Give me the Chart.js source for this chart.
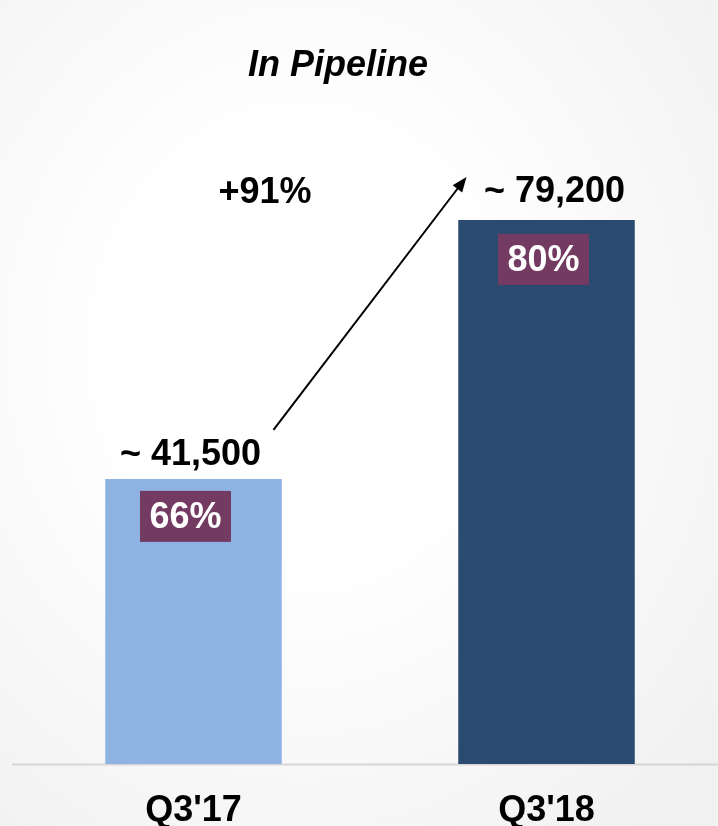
<!DOCTYPE html>
<html>
<head>
<meta charset="utf-8">
<script src="https://cdn.jsdelivr.net/npm/chart.js@4/dist/chart.umd.min.js"></script>
<style>
  html, body { margin: 0; padding: 0; width: 718px; height: 826px; overflow: hidden; }
  body { background: radial-gradient(ellipse 75% 75% at 42% 42%, #ffffff 35%, #f1f1f1 100%); }
  #wrap { position: absolute; left: 0; top: 0; width: 740px; height: 826px; }
</style>
</head>
<body>
<div id="wrap"><canvas id="c" width="740" height="826"></canvas></div>
<script>
const chartTitle = "In Pipeline";
const categories = ["Q3'17", "Q3'18"];
const pipelineValues = [41500, 79200];
const valueLabels = ["~ 41,500", "~ 79,200"];
const shareLabels = ["66%", "80%"];
const changeLabel = "+91%";
const barColors = ["#8EB3E2", "#2B4A6F"];

const FONT = "'Liberation Sans', Arial, sans-serif";

const annotPlugin = {
  id: 'annot',
  beforeDatasetsDraw(chart) {
    const ctx = chart.ctx;
    const y0 = chart.scales.y.getPixelForValue(0);
    ctx.save();
    ctx.strokeStyle = '#d6d6d6';
    ctx.lineWidth = 2;
    ctx.beginPath();
    ctx.moveTo(12, y0 + 0.5);
    ctx.lineTo(740, y0 + 0.5);
    ctx.stroke();
    ctx.restore();
  },
  afterDatasetsDraw(chart) {
    const ctx = chart.ctx;
    const bars = chart.getDatasetMeta(0).data;
    ctx.save();
    // title
    ctx.fillStyle = '#000';
    ctx.font = "italic bold 36px " + FONT;
    ctx.textAlign = 'center';
    ctx.textBaseline = 'alphabetic';
    ctx.fillText(chartTitle, 338, 76);

    const labelOff = [{dx: -3, dy: 14}, {dx: 8, dy: 18}];
    const boxOff = [{dx: -8, dy: 12}, {dx: -3, dy: 14}];
    bars.forEach((b, i) => {
      // value label
      ctx.font = "bold 36px " + FONT;
      ctx.fillStyle = '#000';
      ctx.textAlign = 'center';
      ctx.textBaseline = 'alphabetic';
      ctx.fillText(valueLabels[i], b.x + labelOff[i].dx, b.y - labelOff[i].dy);
      // share box
      const bw = 91, bh = 51;
      const bx = b.x + boxOff[i].dx - bw / 2;
      const by = b.y + boxOff[i].dy;
      ctx.fillStyle = '#733A62';
      ctx.fillRect(bx, by, bw, bh);
      ctx.fillStyle = '#ffffff';
      ctx.textBaseline = 'middle';
      ctx.fillText(shareLabels[i], bx + bw / 2, by + bh / 2 + 2);
    });

    // arrow
    const b1 = bars[0], b2 = bars[1];
    const sx = b1.x + 80, sy = b1.y - 49;
    const ex = b2.x - 80, ey = b2.y - 43;
    const ang = Math.atan2(ey - sy, ex - sx);
    const headLen = 15, headW = 6;
    ctx.strokeStyle = '#000';
    ctx.lineWidth = 2;
    ctx.beginPath();
    ctx.moveTo(sx, sy);
    ctx.lineTo(ex - Math.cos(ang) * (headLen - 2), ey - Math.sin(ang) * (headLen - 2));
    ctx.stroke();
    ctx.fillStyle = '#000';
    ctx.beginPath();
    ctx.moveTo(ex, ey);
    ctx.lineTo(ex - Math.cos(ang) * headLen + Math.sin(ang) * headW, ey - Math.sin(ang) * headLen - Math.cos(ang) * headW);
    ctx.lineTo(ex - Math.cos(ang) * headLen - Math.sin(ang) * headW, ey - Math.sin(ang) * headLen + Math.cos(ang) * headW);
    ctx.closePath();
    ctx.fill();

    // change label
    ctx.font = "bold 36px " + FONT;
    ctx.fillStyle = '#000';
    ctx.textAlign = 'center';
    ctx.textBaseline = 'alphabetic';
    ctx.fillText(changeLabel, (b1.x + b2.x) / 2 - 105, 203);
    ctx.restore();
  }
};

new Chart(document.getElementById('c'), {
  type: 'bar',
  data: {
    labels: categories,
    datasets: [{
      data: pipelineValues,
      backgroundColor: barColors,
      borderWidth: 0,
      barPercentage: 0.5,
      categoryPercentage: 1.0
    }]
  },
  options: {
    responsive: false,
    animation: false,
    devicePixelRatio: 1,
    layout: { padding: { left: 17, right: 17, top: 77, bottom: 0 } },
    plugins: { legend: { display: false }, tooltip: { enabled: false }, title: { display: false } },
    scales: {
      x: {
        grid: { display: false, drawTicks: false },
        border: { display: false },
        ticks: { color: '#000', font: { family: FONT, size: 36, weight: 'bold' }, padding: 25 },
        afterFit: (axis) => { axis.height = 62; }
      },
      y: {
        display: false,
        min: 0,
        max: 100000
      }
    }
  },
  plugins: [annotPlugin]
});
</script>
</body>
</html>
